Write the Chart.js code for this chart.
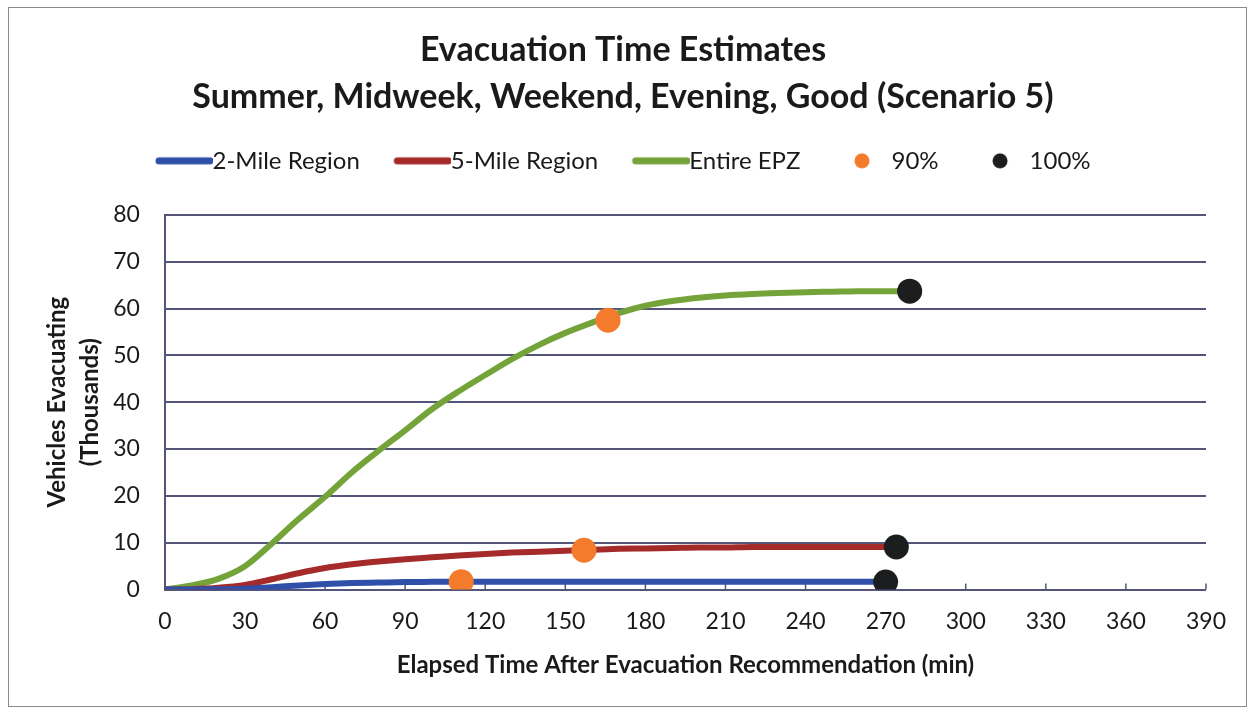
<!DOCTYPE html>
<html>
<head>
<meta charset="utf-8">
<script src="https://cdn.jsdelivr.net/npm/chart.js@4"></script>
<style>
  body { margin: 0; background: #fff; }
  #wrap { position: absolute; left: 8px; top: 7px; width: 1237px; height: 698px; border: 1px solid #8a8a8a; }
</style>
</head>
<body>
<div id="wrap"><canvas id="evacChart" width="1237" height="698"></canvas></div>
<script>
// elapsed time (min) and vehicles evacuating (thousands)
const times = [0, 10, 20, 30, 40, 50, 60, 70, 80, 90, 100, 110, 120, 130, 140, 150, 160, 170, 180, 190, 200, 210, 220, 230, 240, 250, 260, 270];
const twoMile = [0, 0, 0.05, 0.2, 0.5, 0.9, 1.2, 1.4, 1.5, 1.6, 1.65, 1.7, 1.7, 1.7, 1.7, 1.7, 1.7, 1.7, 1.7, 1.7, 1.7, 1.7, 1.7, 1.7, 1.7, 1.7, 1.7, 1.7];
const fiveMile = [0, 0.1, 0.4, 1.0, 2.2, 3.5, 4.6, 5.4, 6.0, 6.5, 6.9, 7.3, 7.6, 7.9, 8.1, 8.3, 8.5, 8.7, 8.8, 8.9, 9.0, 9.0, 9.1, 9.1, 9.1, 9.1, 9.1, 9.1];
const entireEPZ = [0, 0.9, 2.3, 5.0, 9.8, 15, 19.8, 25, 29.6, 34, 38.5, 42.3, 45.8, 49.2, 52.2, 54.8, 57, 59, 60.6, 61.6, 62.3, 62.8, 63.1, 63.3, 63.5, 63.6, 63.7, 63.7];
// end points past 270 min
const fiveMileEnd = [274, 9.1];
const entireEnd = [279, 63.7];

const pct90Times = [111, 157, 166];
const pct90Values = [1.7, 8.4, 57.5];
const pct100Times = [270, 274, 279];
const pct100Values = [1.6, 9.1, 63.7];

const xTicks = [0, 30, 60, 90, 120, 150, 180, 210, 240, 270, 300, 330, 360, 390];

function toXY(xs, ys) {
  return xs.map((x, i) => ({x: x, y: ys[i]}));
}

const fontFam = "Lato, 'Open Sans', sans-serif";

// legend icons (drawn off-centre so the line runs up to the text)
function lineIcon(color) {
  const c = document.createElement('canvas');
  c.width = 70; c.height = 10;
  const g = c.getContext('2d');
  g.strokeStyle = color; g.lineWidth = 7; g.lineCap = 'round';
  g.beginPath(); g.moveTo(16, 5); g.lineTo(67, 5); g.stroke();
  return c;
}
function dotIcon(color) {
  const c = document.createElement('canvas');
  c.width = 66; c.height = 18;
  const g = c.getContext('2d');
  g.fillStyle = color;
  g.beginPath(); g.arc(38, 9, 7.5, 0, Math.PI * 2); g.fill();
  return c;
}

// small tick marks pointing up from the x axis
const insideTicks = {
  id: 'insideTicks',
  beforeDatasetsDraw(chart) {
    const xs = chart.scales.x, ys = chart.scales.y;
    const g = chart.ctx;
    const y0 = ys.getPixelForValue(0);
    g.save();
    g.strokeStyle = '#55557a';
    g.lineWidth = 1.5;
    xTicks.forEach(t => {
      const px = xs.getPixelForValue(t);
      g.beginPath(); g.moveTo(px, y0); g.lineTo(px, y0 - 6); g.stroke();
    });
    g.restore();
  }
};

// extra room under the legend
const legendGap = {
  id: 'legendGap',
  beforeInit(chart) {
    const origFit = chart.legend.fit;
    chart.legend.fit = function () {
      origFit.bind(chart.legend)();
      this.height += 32;
    };
  }
};

const ctx = document.getElementById('evacChart').getContext('2d');
const evacChart = new Chart(ctx, {
  type: 'line',
  data: {
    datasets: [{
      label: '2-Mile Region',
      data: toXY(times, twoMile),
      borderColor: '#2f4fa8',
      backgroundColor: '#2f4fa8',
      borderWidth: 6,
      pointRadius: 0,
      cubicInterpolationMode: 'monotone',
      order: 3
    }, {
      label: '5-Mile Region',
      data: toXY(times, fiveMile).concat([{x: fiveMileEnd[0], y: fiveMileEnd[1]}]),
      borderColor: '#a52a2a',
      backgroundColor: '#a52a2a',
      borderWidth: 6,
      pointRadius: 0,
      cubicInterpolationMode: 'monotone',
      order: 3
    }, {
      label: 'Entire EPZ',
      data: toXY(times, entireEPZ).concat([{x: entireEnd[0], y: entireEnd[1]}]),
      borderColor: '#74a33a',
      backgroundColor: '#74a33a',
      borderWidth: 6,
      pointRadius: 0,
      cubicInterpolationMode: 'monotone',
      order: 3
    }, {
      label: '90%',
      data: toXY(pct90Times, pct90Values),
      showLine: false,
      pointRadius: 12.5,
      pointBackgroundColor: '#f47a2c',
      pointBorderWidth: 0,
      backgroundColor: '#f47a2c',
      borderColor: '#f47a2c',
      order: 1
    }, {
      label: '100%',
      data: toXY(pct100Times, pct100Values),
      showLine: false,
      pointRadius: 12.5,
      pointBackgroundColor: '#1b1d1f',
      pointBorderWidth: 0,
      backgroundColor: '#1b1d1f',
      borderColor: '#1b1d1f',
      order: 1
    }]
  },
  options: {
    responsive: false,
    animation: false,
    layout: { padding: { left: 31, right: 40, top: 0, bottom: 22 } },
    plugins: {
      title: {
        display: true,
        text: ['Evacuation Time Estimates', 'Summer, Midweek, Weekend, Evening, Good (Scenario 5)'],
        color: '#1a1a1a',
        font: { family: fontFam, size: 34, weight: 'bold', lineHeight: 1.38 },
        padding: { top: 19, bottom: -6 }
      },
      legend: {
        display: true,
        labels: {
          usePointStyle: true,
          pointStyleWidth: 45,
          boxHeight: 10,
          padding: 34,
          color: '#1a1a1a',
          font: { family: fontFam, size: 24 },
          sort: (a, b) => a.datasetIndex - b.datasetIndex,
          generateLabels(chart) {
            const items = Chart.defaults.plugins.legend.labels.generateLabels(chart);
            items.forEach(it => {
              const ds = chart.data.datasets[it.datasetIndex];
              it.pointStyle = ds.showLine === false ? dotIcon(ds.pointBackgroundColor) : lineIcon(ds.borderColor);
            });
            return items;
          }
        }
      },
      tooltip: { enabled: false }
    },
    scales: {
      x: {
        type: 'linear',
        min: 0,
        max: 390,
        afterBuildTicks(axis) { axis.ticks = xTicks.map(v => ({value: v})); },
        grid: { display: false },
        border: { display: false },
        ticks: { color: '#1a1a1a', font: { family: fontFam, size: 23 }, padding: 10 },
        title: {
          display: true,
          text: 'Elapsed Time After Evacuation Recommendation (min)',
          color: '#1a1a1a',
          font: { family: fontFam, size: 24, weight: 'bold' },
          padding: { top: 6 }
        }
      },
      y: {
        min: 0,
        max: 80,
        ticks: { stepSize: 10, color: '#1a1a1a', font: { family: fontFam, size: 23 }, padding: 25 },
        grid: { color: '#55557a', lineWidth: 2, drawTicks: false },
        border: { color: '#55557a', width: 2 },
        title: {
          display: true,
          text: ['Vehicles Evacuating', '(Thousands)'],
          color: '#1a1a1a',
          font: { family: fontFam, size: 24, weight: 'bold', lineHeight: 1.4 },
          padding: { top: 0, bottom: -19 }
        }
      }
    }
  },
  plugins: [insideTicks, legendGap]
});
</script>
</body>
</html>
